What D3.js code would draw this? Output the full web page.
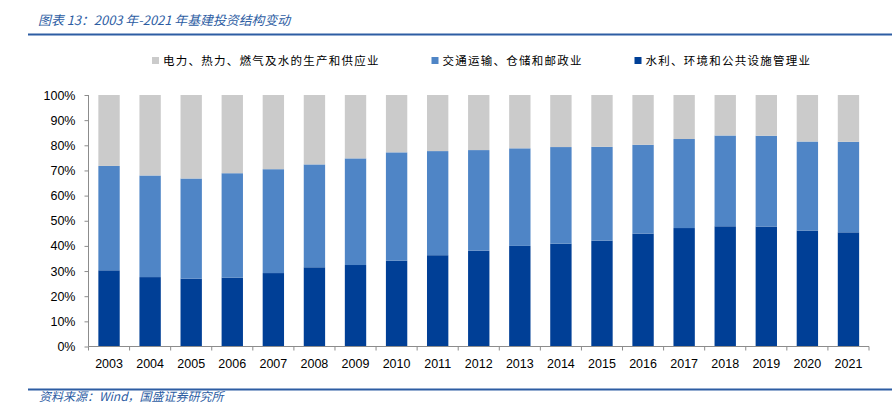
<!DOCTYPE html>
<html><head><meta charset="utf-8">
<script src="https://cdn.jsdelivr.net/npm/d3@7"></script>
<style>
html,body{margin:0;padding:0;background:#fff;}
svg{display:block;}
</style></head>
<body>
<svg id="c" width="892" height="412"></svg>
<script>
const years = ["2003","2004","2005","2006","2007","2008","2009","2010","2011","2012","2013","2014","2015","2016","2017","2018","2019","2020","2021"];
// 水利、环境和公共设施管理业 (bottom)
const water = [30.3,27.6,27.0,27.4,29.2,31.5,32.4,34.1,36.3,38.1,40.0,40.9,42.1,44.9,47.1,47.8,47.7,46.1,45.4];
// 交通运输、仓储和邮政业 (middle)
const transport = [41.5,40.4,39.8,41.5,41.3,40.9,42.4,43.1,41.4,40.0,38.8,38.4,37.3,35.3,35.4,36.1,36.1,35.4,36.0];
// 电力、热力、燃气及水的生产和供应业 (top)
const power = [28.2,32.0,33.2,31.1,29.5,27.6,25.2,22.8,22.3,21.9,21.2,20.7,20.6,19.8,17.5,16.1,16.2,18.5,18.6];
const yTicks = [0,10,20,30,40,50,60,70,80,90,100];
const seriesNames = ["电力、热力、燃气及水的生产和供应业","交通运输、仓储和邮政业","水利、环境和公共设施管理业"];
const titleText = "图表 13：2003 年-2021 年基建投资结构变动";
const sourceText = "资料来源：Wind，国盛证券研究所";

const colors = {water:"#003f96", transport:"#4f85c6", power:"#cbcbcb"};
const svg = d3.select("#c");
const blue = "#2d5da3";

// title and rules
svg.append("text").attr("x",38).attr("y",25)
  .attr("font-family","'Noto Sans CJK SC', sans-serif").attr("font-size",12.9)
  .attr("font-style","italic").attr("fill",blue).text(titleText);
svg.append("line").attr("x1",28).attr("x2",892).attr("y1",34.5).attr("y2",34.5)
  .attr("stroke",blue).attr("stroke-width",2);
svg.append("line").attr("x1",28).attr("x2",892).attr("y1",389.5).attr("y2",389.5)
  .attr("stroke",blue).attr("stroke-width",2);
svg.append("text").attr("x",39).attr("y",401)
  .attr("font-family","'Noto Sans CJK SC', sans-serif").attr("font-size",12)
  .attr("font-style","italic").attr("fill",blue).text(sourceText);

// scales
const x = d3.scaleBand().domain(years).range([88.5,869]).paddingInner(0.48).paddingOuter(0.24);
const y = d3.scaleLinear().domain([0,100]).range([346.5,95]);

const data = years.map((yr,i)=>({year:yr, water:water[i], transport:transport[i], power:power[i]}));
const stack = d3.stack().keys(["water","transport","power"])(data);

const g = svg.append("g");
g.selectAll("g.s").data(stack).join("g").attr("fill",d=>colors[d.key])
  .selectAll("rect").data(d=>d).join("rect")
  .attr("x",d=>x(d.data.year)).attr("width",x.bandwidth())
  .attr("y",d=>y(d[1])).attr("height",d=>y(d[0])-y(d[1]));

// y axis
const ya = svg.append("g").attr("transform","translate(88.5,0)")
  .call(d3.axisLeft(y).tickValues(yTicks).tickFormat(d=>d+"%").tickSize(4).tickPadding(9));
ya.select(".domain").attr("stroke","#8c8c8c").attr("d","M-0,95V346.5");
ya.selectAll(".tick line").attr("stroke","#8c8c8c");
ya.selectAll("text").attr("font-family","'Liberation Sans', Arial, sans-serif").attr("font-size",12.5).attr("fill","#000");

// x axis
const xa = svg.append("g").attr("transform","translate(0,346.5)");
xa.append("line").attr("x1",88.5).attr("x2",869).attr("stroke","#8c8c8c");
const step = x.step();
const bounds = years.map(yr=>x(yr)-(step-x.bandwidth())/2).concat([x(years[years.length-1])+x.bandwidth()+(step-x.bandwidth())/2]);
xa.selectAll("line.t").data(bounds).join("line").attr("class","t")
  .attr("x1",d=>d).attr("x2",d=>d).attr("y1",0).attr("y2",4).attr("stroke","#8c8c8c");
xa.selectAll("text").data(years).join("text")
  .attr("x",d=>x(d)+x.bandwidth()/2).attr("y",21.5).attr("text-anchor","middle")
  .attr("font-family","'Liberation Sans', Arial, sans-serif").attr("font-size",12.5).text(d=>d);

// legend
const legX = [152,431.5,634.5];
const legC = [colors.power, colors.transport, colors.water];
const lg = svg.append("g");
seriesNames.forEach((n,i)=>{
  lg.append("rect").attr("x",legX[i]).attr("y",57).attr("width",7).attr("height",7).attr("fill",legC[i]);
  lg.append("text").attr("x",legX[i]+11).attr("y",65)
    .attr("font-family","'Noto Sans CJK SC', sans-serif").attr("font-size",11.5)
    .attr("letter-spacing","1.25px").attr("fill","#000").text(n);
});
</script>
</body></html>
